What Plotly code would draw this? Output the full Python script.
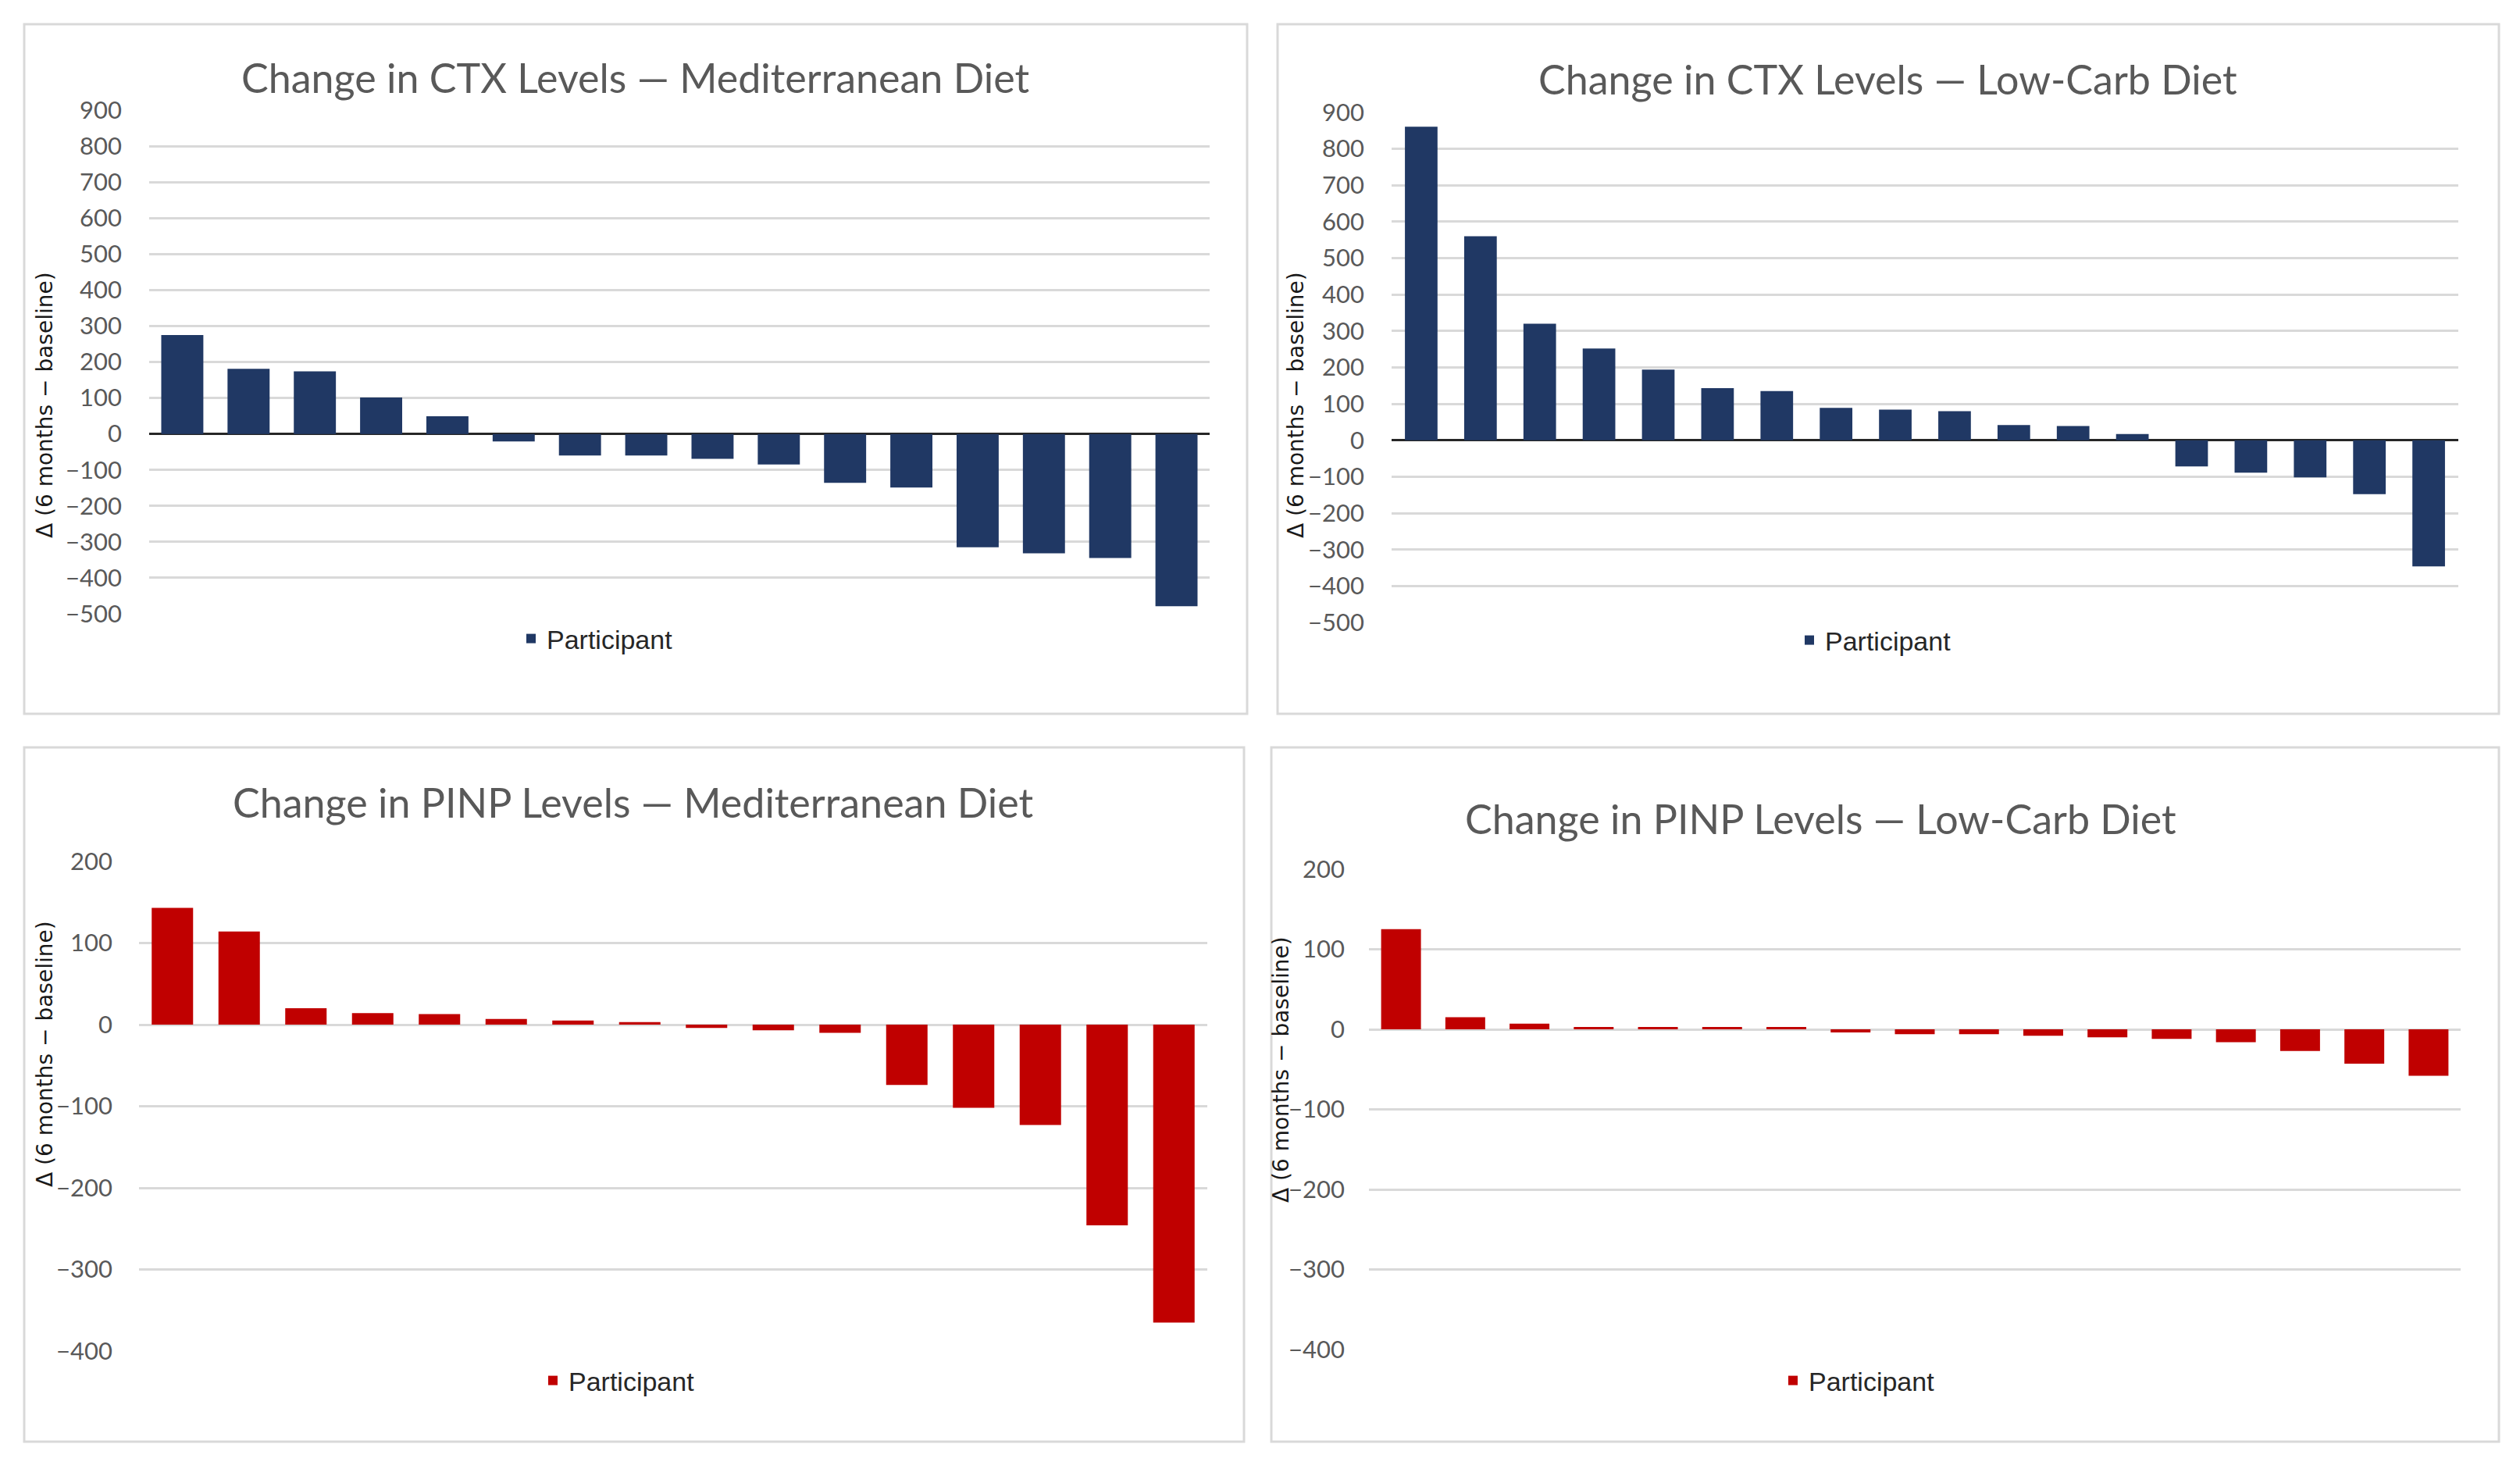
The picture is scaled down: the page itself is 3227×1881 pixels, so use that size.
import plotly.graph_objects as go

# page is 3227x1881; the browser body has an 8px margin, so the figure is 16px smaller
OFF = 8
FW, FH = 3227 - 2 * OFF, 1881 - 2 * OFF

# ---------------- data ----------------
ctx_med = [275, 181, 174, 101, 49, -21, -60, -60, -69, -85, -136, -149, -315, -332, -345, -479]
ctx_lowcarb = [861, 560, 320, 252, 194, 143, 135, 89, 84, 80, 42, 39, 17, -72, -89, -102, -148, -346]
pinp_med = [143, 114, 20, 14, 13, 7, 5, 3, -4, -7, -10, -74, -102, -123, -246, -365]
pinp_lowcarb = [125, 15, 7, 3, 3, 3, 3, -4, -6, -6, -8, -10, -12, -16, -27, -43, -58]

titles = [
    "Change in CTX Levels — Mediterranean Diet",
    "Change in CTX Levels — Low-Carb Diet",
    "Change in PINP Levels — Mediterranean Diet",
    "Change in PINP Levels — Low-Carb Diet",
]
y_title = "Δ (6 months − baseline)"
series_name = "Participant"
ctx_ticks = [900, 800, 700, 600, 500, 400, 300, 200, 100, 0, -100, -200, -300, -400, -500]
pinp_ticks = [200, 100, 0, -100, -200, -300, -400]

NAVY = "#203864"
RED = "#C00000"
GRID = "#D9D9D9"
TXT = "#595959"


def px(x):
    return (x - OFF) / FW


def py(y):
    return 1 - (y - OFF) / FH


panels = [
    dict(data=ctx_med, color=NAVY, plot=(191, 1549, 141, 786), rng=(-500, 900), ticks=ctx_ticks,
         width=0.635, zl="#262626", border=(31, 1597, 31, 914), title_xy=(814, 99),
         ytitle_xy=(57, 519), legend_xy=(660, 818), standoff=34),
    dict(data=ctx_lowcarb, color=NAVY, plot=(1782, 3148, 144, 797), rng=(-500, 900), ticks=ctx_ticks,
         width=0.55, zl="#262626", border=(1636, 3200, 31, 914), title_xy=(2417, 101),
         ytitle_xy=(1659, 519), legend_xy=(2297, 820), standoff=34),
    dict(data=pinp_med, color=RED, plot=(178, 1546, 1103, 1730), rng=(-400, 200), ticks=pinp_ticks,
         width=0.62, zl=GRID, border=(31, 1593, 957, 1846), title_xy=(811, 1027),
         ytitle_xy=(57, 1350), legend_xy=(688, 1768), standoff=33),
    dict(data=pinp_lowcarb, color=RED, plot=(1753, 3151, 1113, 1728), rng=(-400, 200), ticks=pinp_ticks,
         width=0.62, zl=GRID, border=(1628, 3200, 957, 1846), title_xy=(2331, 1048),
         ytitle_xy=(1640, 1370), legend_xy=(2276, 1768), standoff=30),
]

fig = go.Figure()
shapes = []
annotations = []
layout = dict(
    width=FW, height=FH, autosize=False,
    margin=dict(l=0, r=0, t=0, b=0, autoexpand=False),
    paper_bgcolor="white", plot_bgcolor="white",
    showlegend=True,
    font=dict(family="Lato, 'Open Sans', sans-serif", color=TXT),
)

for i, p in enumerate(panels):
    n = i + 1
    sfx = "" if n == 1 else str(n)
    legend_key = "legend" if n == 1 else f"legend{n}"
    cats = [f"P{k + 1}" for k in range(len(p["data"]))]
    fig.add_trace(go.Bar(
        x=cats, y=p["data"], name=series_name,
        marker=dict(color=p["color"], line=dict(width=0)),
        width=p["width"],
        xaxis=f"x{sfx}", yaxis=f"y{sfx}",
        legend=legend_key, showlegend=True,
    ))
    x0, x1, y0, y1 = p["plot"]
    layout[f"xaxis{sfx}"] = dict(
        domain=[px(x0), px(x1)], anchor=f"y{sfx}", type="category",
        showticklabels=False, showgrid=False, zeroline=False, showline=False,
        ticks="", fixedrange=True, automargin=False,
    )
    layout[f"yaxis{sfx}"] = dict(
        domain=[py(y1), py(y0)], anchor=f"x{sfx}", range=list(p["rng"]),
        tickmode="array", tickvals=p["ticks"],
        showgrid=True, gridcolor=GRID, gridwidth=3,
        zeroline=True, zerolinecolor=p["zl"], zerolinewidth=3,
        showline=False, ticks="", automargin=False,
        tickfont=dict(family="Lato, 'Open Sans', sans-serif", size=31, color=TXT),
        ticklabelstandoff=p["standoff"],
        fixedrange=True,
    )
    lx, ly = p["legend_xy"]
    layout[legend_key] = dict(
        x=px(lx), y=py(ly), xanchor="left", yanchor="middle",
        orientation="h", bgcolor="rgba(0,0,0,0)",
        font=dict(family="'Liberation Sans', Arial, sans-serif", size=34, color="#262626"),
        itemsizing="constant",
    )
    bx0, bx1, by0, by1 = p["border"]
    shapes.append(dict(type="rect", xref="paper", yref="paper",
                       x0=px(bx0), x1=px(bx1), y0=py(by1), y1=py(by0),
                       line=dict(color=GRID, width=3), fillcolor="rgba(0,0,0,0)", layer="below"))
    tx, ty = p["title_xy"]
    annotations.append(dict(text=titles[i], xref="paper", yref="paper", x=px(tx), y=py(ty),
                            xanchor="center", yanchor="middle", showarrow=False,
                            font=dict(family="Lato, 'Open Sans', sans-serif", size=52, color=TXT)))
    yx, yy = p["ytitle_xy"]
    annotations.append(dict(text=y_title, xref="paper", yref="paper", x=px(yx), y=py(yy),
                            xanchor="center", yanchor="middle", showarrow=False, textangle=-90,
                            font=dict(family="'DejaVu Sans', sans-serif", size=28, color="#1a1a1a")))

layout["shapes"] = shapes
layout["annotations"] = annotations
fig.update_layout(**layout)

fig.write_html("out.html")
